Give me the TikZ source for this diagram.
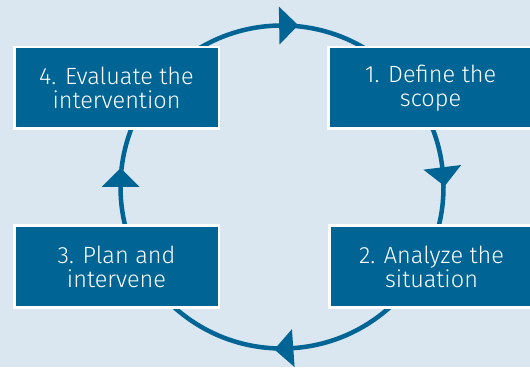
\documentclass[tikz,border=0pt]{standalone}
\usepackage{fontspec}
\setmainfont{Fira Sans Light}
\definecolor{bg}{HTML}{DAE6F0}
\definecolor{navy}{HTML}{006494}
\begin{document}
\begin{tikzpicture}[x=1pt,y=1pt,
  stepbox/.style={rectangle, fill=navy, draw=white, line width=2.5pt,
    minimum width=204.5pt, minimum height=81.5pt, inner sep=0pt,
    align=center, text=white, font=\fontsize{23.5}{24}\selectfont},
  ring/.style={draw=navy, line width=4.5pt},
  head/.style={fill=navy}]
\fill[bg] (0,0) rectangle (530,367);
\useasboundingbox (0,0) rectangle (530,367);
\coordinate (c) at (282,180);
\draw[ring] (c) circle[radius=161.5];
\foreach \a in {91,7,274,180}{
  \fill[head, shift={(c)}, rotate=\a] (142.5,0) -- (180.5,0) -- (161.5,-19) -- cycle;
}
\node[stepbox] (s4) at (116.5,279) {4. Evaluate the\\intervention};
\node[stepbox] (s1) at (430.5,279) {1. Define the\\scope};
\node[stepbox] (s3) at (116.5,100.5) {3. Plan and\\intervene};
\node[stepbox] (s2) at (431.5,100.5) {2. Analyze the\\situation};
\end{tikzpicture}
\end{document}
